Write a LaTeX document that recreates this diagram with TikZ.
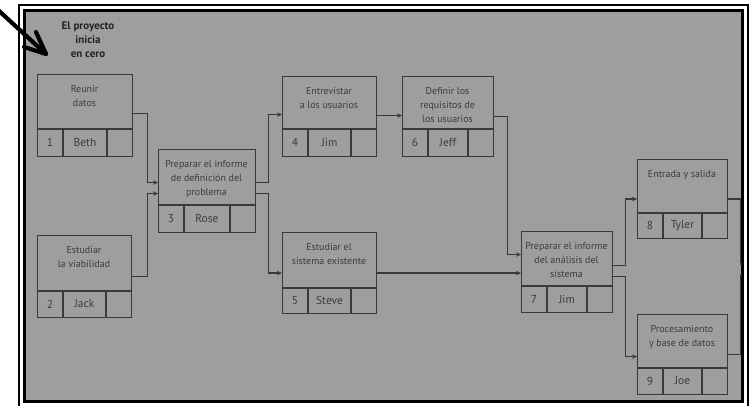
\documentclass[tikz,border=0pt]{standalone}
\usepackage{fontspec}
\setmainfont{PT Sans}
\usetikzlibrary{arrows.meta,calc}

\definecolor{paper}{RGB}{158,158,158}
\definecolor{ink}{RGB}{58,58,58}
\definecolor{printtext}{RGB}{60,60,60}

\tikzset{
  taskframe/.style={draw=ink, line width=1.1pt, inner sep=0pt, rectangle},
  cell/.style={draw=ink, line width=1.1pt},
  desc/.style={inner sep=0pt, align=center, text=printtext, font=\fontsize{10}{14}\selectfont},
  cellnum/.style={inner sep=0pt, text=printtext, font=\fontsize{11.5}{13}\selectfont},
  cellname/.style={inner sep=0pt, text=printtext, font=\fontsize{11.5}{13}\selectfont},
  conn/.style={draw=ink, line width=1.1pt, -{Stealth[length=5pt,width=4.5pt]}},
  tail/.style={draw=ink, line width=1.1pt},
  headline/.style={inner sep=0pt, align=center, text={rgb,255:red,35;green,35;blue,35},
    font=\fontsize{11}{14}\selectfont\bfseries},
  pointer/.style={draw=black, line width=4.2pt, line cap=round, line join=round}
}

% #1 name, #2 left, #3 top, #4 right, #5 bottom, #6 row divider, #7 task, #8 number, #9 person
\newcommand\taskbox[9]{%
  \node[taskframe, anchor=north west,
        minimum width={(#4)-(#2)}, minimum height={(#5)-(#3)}] (#1) at (#2,#3) {};
  \draw[cell] (#2,#6) -- (#4,#6)
              (#2+26,#6) -- (#2+26,#5)
              (#4-25,#6) -- (#4-25,#5);
  \node[desc, anchor=north] (#1-text) at ({(#2+#4)/2},#3+11) {#7};
  \node[cellnum] (#1-num) at ({#2+13},{(#6+#5)/2}) {#8};
  \node[cellname] (#1-who) at ({(#2+#4+1)/2},{(#6+#5)/2}) {#9};
}

\begin{document}
\begin{tikzpicture}[x=1pt, y=-1pt]
  \useasboundingbox (0,0) rectangle (753,406);
  \fill[white] (0,0) rectangle (753,406);

  % double frame round the page
  \draw[black, line width=2pt] (18.5,5) rectangle (748,409);
  \draw[black, line width=3pt, fill=paper] (24,11) rectangle (742.5,401.5);

  \node[headline] (start-note) at (88,40) {El proyecto\\inicia\\en cero};

  % activities
  \taskbox{b1}{37}{74}{132}{156}{129}{Reunir\\datos}{1}{Beth}
  \taskbox{b2}{37}{235}{131}{317}{291}{Estudiar\\la viabilidad}{2}{Jack}
  \taskbox{b3}{158}{149}{255}{232}{205}{Preparar el informe\\de definición del\\problema}{3}{Rose}
  \taskbox{b4}{282}{76}{376}{156}{129}{Entrevistar\\a los usuarios}{4}{Jim}
  \taskbox{b5}{282}{232}{376}{313}{288}{Estudiar el\\sistema existente}{5}{Steve}
  \taskbox{b6}{402}{76}{493}{156}{129}{Definir los\\requisitos de\\los usuarios}{6}{Jeff}
  \taskbox{b7}{521}{231}{612}{312}{286}{Preparar el informe\\del análisis del\\sistema}{7}{Jim}
  \taskbox{b8}{637}{159}{727}{238}{213}{Entrada y salida}{8}{Tyler}
  \taskbox{b9}{637}{314}{727}{394}{368}{Procesamiento\\y base de datos}{9}{Joe}

  % dependencies
  \draw[conn] ([yshift=2pt]b1.east) -- ++(14,0) |- ([yshift=8.5pt]b3.west);
  \draw[conn] (b2.east) -- ++(15,0) |- ([yshift=-2.5pt]b3.west);
  \draw[conn] ([yshift=8.5pt]b3.east) -- ++(12,0) |- ([yshift=2pt]b4.west);
  \draw[conn] ([yshift=-2.5pt]b3.east) -- ++(12,0) |- (b5.west);
  \draw[conn] ([yshift=1pt]b4.east) -- ([yshift=1pt]b6.west);
  \draw[conn] (b6.east) -- ++(13,0) |- ([yshift=17.5pt]b7.west);
  \draw[conn] (b5.east) -- (b5.east -| b7.west);
  \draw[conn] ([yshift=6.5pt]b7.east) -- ++(12,0) |- (b8.west);
  \draw[conn] ([yshift=-4.5pt]b7.east) -- ++(12,0) |- ([yshift=-2pt]b9.west);

  % links running on past the right edge
  \coordinate (out8) at (742,264);
  \coordinate (out9) at (742,275);
  \draw[tail] (b8.east) -- ++(12,0) |- (out8);
  \draw[tail] (b9.east) -- ++(12,0) |- (out9);

  % pointer to the first activity
  \coordinate (ptr-from) at (-2,10);
  \coordinate (ptr-tip) at (46,54);
  \draw[pointer] (ptr-from) -- (ptr-tip);
  \draw[pointer] ($(ptr-tip)+(-10,-22)$) -- (ptr-tip) -- ($(ptr-tip)+(-22,-7)$);
\end{tikzpicture}
\end{document}
